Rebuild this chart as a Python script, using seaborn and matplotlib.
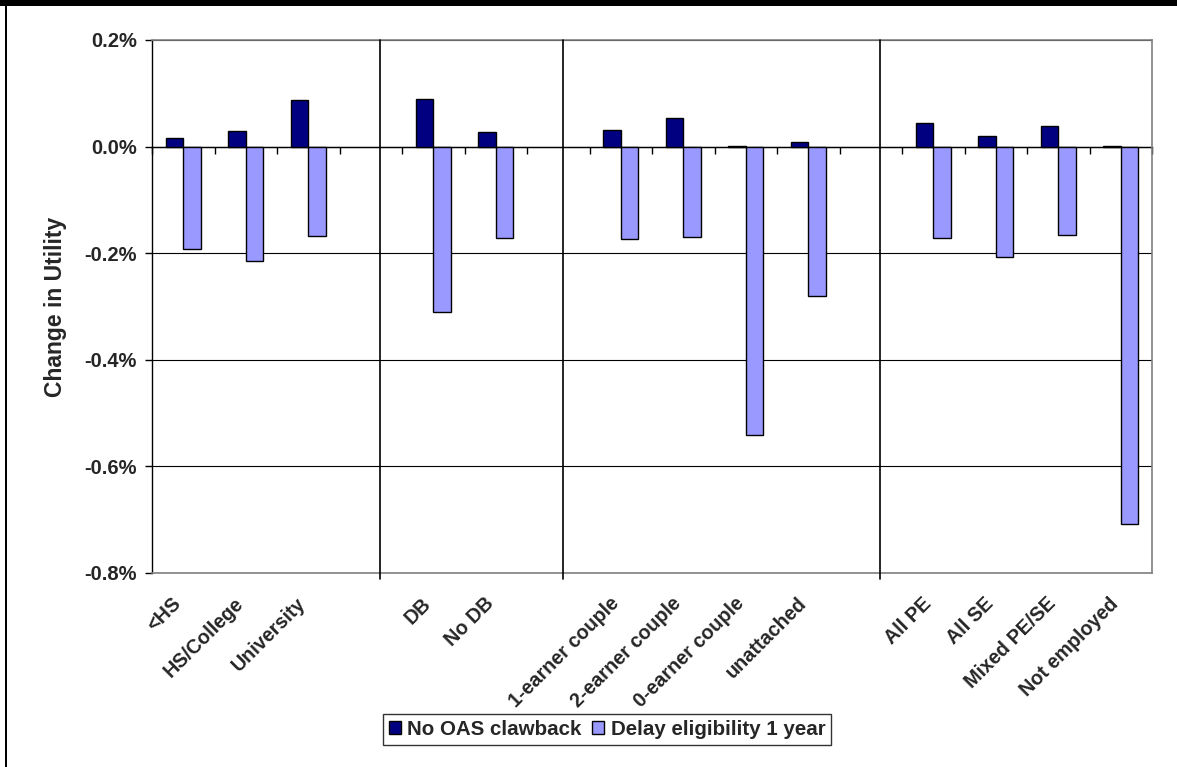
import numpy as np
import pandas as pd
import matplotlib
matplotlib.use("Agg")
import matplotlib.pyplot as plt
import matplotlib.ticker as mticker
from matplotlib.patches import Rectangle
from matplotlib.transforms import ScaledTranslation
import seaborn as sns

# Groups along the x axis; blank entries are spacer slots between the panels
categories = ["<HS", "HS/College", "University", " ",
              "DB", "No DB", "  ",
              "1-earner couple", "2-earner couple", "0-earner couple", "unattached", "   ",
              "All PE", "All SE", "Mixed PE/SE", "Not employed"]
groups = ["<HS", "HS/College", "University",
          "DB", "No DB",
          "1-earner couple", "2-earner couple", "0-earner couple", "unattached",
          "All PE", "All SE", "Mixed PE/SE", "Not employed"]

# Change in utility, in percent
no_oas_clawback = [0.016, 0.029, 0.087,
                   0.090, 0.028,
                   0.031, 0.053, 0.002, 0.009,
                   0.044, 0.020, 0.039, 0.001]
delay_eligibility = [-0.192, -0.214, -0.168,
                     -0.311, -0.172,
                     -0.173, -0.170, -0.541, -0.281,
                     -0.171, -0.207, -0.165, -0.709]

series_names = ["No OAS clawback", "Delay eligibility 1 year"]
series_colors = ["#000080", "#9999FF"]

y_ticks = [-0.8, -0.6, -0.4, -0.2, 0.0, 0.2]
panel_dividers = [3.14, 6.08, 11.14]

df = pd.DataFrame({
    "group": groups * 2,
    "series": [series_names[0]] * len(groups) + [series_names[1]] * len(groups),
    "value": no_oas_clawback + delay_eligibility,
})

sns.set_style("white")
plt.rcParams["font.family"] = ["Liberation Sans", "DejaVu Sans"]
plt.rcParams["font.weight"] = "bold"
plt.rcParams["axes.unicode_minus"] = False

fig = plt.figure(figsize=(11.77, 7.67), dpi=100)
ax = fig.add_axes([152 / 1177, 1 - 573 / 767, 1000 / 1177, 533 / 767])

sns.barplot(data=df, x="group", y="value", hue="series", order=categories,
            hue_order=series_names, palette=dict(zip(series_names, series_colors)),
            saturation=1, width=0.56, errorbar=None, edgecolor="black",
            linewidth=1.0, ax=ax, zorder=3)

ax.set_ylim(-0.8, 0.2)
ax.set_xlim(-0.5, len(categories) - 0.5)
ax.set_yticks(y_ticks)
ax.yaxis.set_major_formatter(mticker.PercentFormatter(xmax=100, decimals=1))
ax.yaxis.grid(True, color="black", linewidth=0.8, zorder=0)
ax.xaxis.grid(False)
ax.set_axisbelow(True)

for side in ["top", "right", "bottom"]:
    ax.spines[side].set_color("#808080")
    ax.spines[side].set_linewidth(1.2)
ax.spines["left"].set_color("black")
ax.spines["left"].set_linewidth(1.0)

ax.tick_params(axis="y", direction="out", length=5, width=1, color="black",
               labelsize=14.5, pad=6, left=True)
ax.tick_params(axis="x", length=0, pad=20, labelsize=14.2)
ax.set_xticks(range(len(categories)))
ax.set_xticklabels(categories, rotation=45, ha="right", va="center",
                   rotation_mode="anchor", fontweight="bold")
shift = ScaledTranslation(-5 / 100, 0, fig.dpi_scale_trans)
for lab in ax.get_xticklabels():
    lab.set_transform(lab.get_transform() + shift)
for lab in ax.get_yticklabels():
    lab.set_fontweight("bold")

ax.set_xlabel("")
ax.set_ylabel("Change in Utility", fontsize=16.5, fontweight="bold")
ax.yaxis.set_label_coords(-0.085, 0.5)

# Zero line with category boundary ticks
zero_frac = (0 - y_ticks[0]) / (y_ticks[-1] - y_ticks[0])
sec = ax.secondary_xaxis(zero_frac)
sec.set_alignment("bottom")
sec.set_xticks(np.arange(-0.5, len(categories), 1.0))
sec.tick_params(axis="x", direction="out", length=5, width=1, color="black",
                labelbottom=False, labeltop=False)
sec.spines["bottom"].set_color("black")
sec.spines["bottom"].set_linewidth(1.0)

# Panel dividers
trans = ax.get_xaxis_transform()
for xd in panel_dividers:
    ax.plot([xd, xd], [-0.012, 1.0], transform=trans, color="black",
            linewidth=1.2, clip_on=False, zorder=4)

# Legend below the chart
leg_handles, leg_labels = ax.get_legend_handles_labels()
if ax.get_legend() is not None:
    ax.get_legend().remove()
leg = fig.legend(leg_handles, leg_labels, loc="center",
                 bbox_to_anchor=(607 / 1177, 1 - 729.5 / 767), ncol=2,
                 frameon=True, fancybox=False, shadow=False,
                 prop={"size": 14.8, "weight": "bold"},
                 handlelength=0.6, handleheight=0.6, handletextpad=0.3,
                 columnspacing=0.5, borderpad=0.3, borderaxespad=0)
leg.get_frame().set_edgecolor("black")
leg.get_frame().set_linewidth(1.0)

# Outer chart frame: heavy top edge and thin left edge
fig.patches.append(Rectangle((0, 1 - 6 / 767), 1, 6 / 767, transform=fig.transFigure,
                             facecolor="black", edgecolor="none", zorder=10))
fig.patches.append(Rectangle((5 / 1177, 0), 2 / 1177, 1, transform=fig.transFigure,
                             facecolor="black", edgecolor="none", zorder=10))

fig.savefig("out.png", dpi=100)
